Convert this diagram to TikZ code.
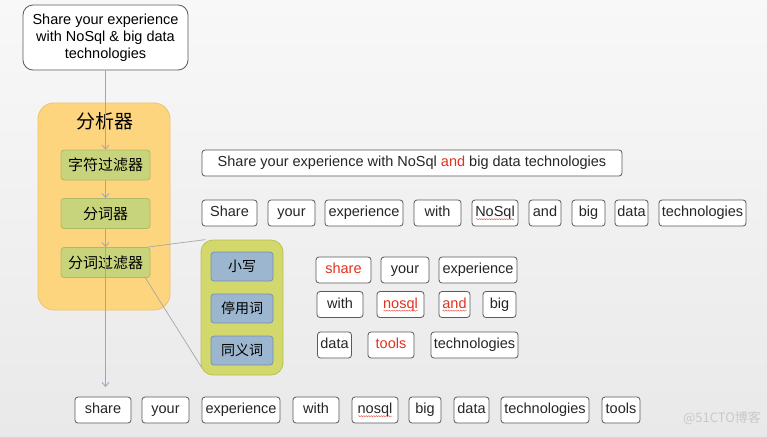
\documentclass[tikz,border=0pt]{standalone}
\usepackage{fontspec}
\setmainfont{Liberation Sans}
\newfontfamily\cjk{Noto Sans CJK SC}
\usetikzlibrary{arrows.meta,decorations.pathmorphing,calc}
\definecolor{bgtop}{HTML}{F8F8F8}
\definecolor{bgbot}{HTML}{E9E9E9}
\definecolor{flowline}{HTML}{9AA4CC}
\definecolor{orfill}{HTML}{FDD57F}
\definecolor{ordraw}{HTML}{EFC267}
\definecolor{grfill}{HTML}{C8D47C}
\definecolor{grdraw}{HTML}{AEBB62}
\definecolor{grpfill}{HTML}{D3D86C}
\definecolor{grpdraw}{HTML}{BAC04E}
\definecolor{blfill}{HTML}{9DB6CF}
\definecolor{bldraw}{HTML}{7391B0}
\definecolor{tokdraw}{HTML}{5A5A5A}
\definecolor{redtxt}{HTML}{E0321E}
\definecolor{wm}{HTML}{C9C9C9}
\tikzset{
  tok/.style={draw=tokdraw, line width=0.8pt, fill=white, rounded corners=3pt,
    minimum height=26pt, inner sep=0pt, text height=10.5pt, text depth=3.2pt,
    font=\fontsize{14.5}{17}\selectfont, text=black!85},
  orbox/.style={draw=ordraw, fill=orfill, line width=0.8pt, rounded corners=16pt, inner sep=0pt},
  grbox/.style={draw=grdraw, fill=grfill, line width=0.8pt, rounded corners=3pt,
    minimum width=89pt, minimum height=30pt, inner sep=0pt, font=\cjk\fontsize{15}{17}\selectfont},
  grpbox/.style={draw=grpdraw, fill=grpfill, line width=0.8pt, rounded corners=12pt, inner sep=0pt},
  blbox/.style={draw=bldraw, fill=blfill, line width=0.8pt, rounded corners=3pt,
    minimum width=62pt, minimum height=29pt, inner sep=0pt, font=\cjk\fontsize{14}{17}\selectfont},
  flow/.style={draw=flowline, line width=0.8pt, -{Straight Barb[length=4pt,width=7pt]}},
  side/.style={draw=gray!70, line width=0.7pt},
  wavy/.style={draw=redtxt!80, line width=0.4pt, decorate,
    decoration={snake, amplitude=0.6pt, segment length=2.5pt}}
}
\begin{document}
\begin{tikzpicture}[x=1pt,y=-1pt]
\shade[top color=bgtop, bottom color=bgbot] (0,0) rectangle (767,436);
\useasboundingbox (0,0) rectangle (767,436);

% top input box
\node[draw=tokdraw, line width=0.8pt, fill=white, rounded corners=10pt,
  minimum width=165pt, minimum height=65pt, inner sep=0pt, align=center,
  font=\fontsize{14.5}{17}\selectfont] (input) at (105.5,37.5)
  {Share your experience\\with NoSql \& big data\\technologies};

% analyzer
\node[orbox, minimum width=132pt, minimum height=207pt] (analyzer) at (104,206.5) {};
\node[font=\cjk\fontsize{19}{22}\selectfont, inner sep=0pt] (antitle) at (105,121) {分析器};
\node[grbox] (cf) at (105.5,165) {字符过滤器};
\node[grbox] (tk) at (105.5,213.5) {分词器};
\node[grbox] (tf) at (105.5,262.5) {分词过滤器};

% filter group
\node[grpbox, minimum width=82pt, minimum height=135pt] (grp) at (242,307.5) {};
\node[blbox] (lower) at (242,266.5) {小写};
\node[blbox] (stop) at (242,308.5) {停用词};
\node[blbox] (syn) at (242,350.5) {同义词};

% connectors
\coordinate (endpt) at (105.5,387);
\draw[flow] (input.south) -- (cf.north);
\draw[flow] (cf.south) -- (tk.north);
\draw[flow] (tk.south) -- (tf.north);
\draw[flow] (tf.north) -- (endpt);
\draw[side] ($(tf.north east)+(-3,0)$) -- ($(grp.north west)+(5,0)$);
\draw[side] ($(tf.south east)+(-5,0)$) -- ($(grp.south west)+(1,-8)$);

% sentence
\node[tok, minimum width=420pt] (sent) at (412,163)
  {Share your experience with NoSql \textcolor{redtxt}{and} big data technologies};

% row 1 tokens
\node[tok, minimum width=55pt] (r1a) at (229.5,213) {Share};
\node[tok, minimum width=47pt] (r1b) at (291.5,213) {your};
\node[tok, minimum width=78pt] (r1c) at (364,213) {experience};
\node[tok, minimum width=47pt] (r1d) at (437.5,213) {with};
\node[tok, minimum width=46pt] (r1e) at (495,213) {NoSql};
\node[tok, minimum width=32pt] (r1f) at (545,213) {and};
\node[tok, minimum width=33pt] (r1g) at (588.5,213) {big};
\node[tok, minimum width=33pt] (r1h) at (631.5,213) {data};
\node[tok, minimum width=87pt] (r1i) at (702.5,213) {technologies};

% filtered tokens
\node[tok, minimum width=55pt, text=redtxt] (f1) at (343.5,270) {share};
\node[tok, minimum width=48pt] (f2) at (405,270) {your};
\node[tok, minimum width=78pt] (f3) at (478,270) {experience};
\node[tok, minimum width=46pt] (f4) at (340,304.5) {with};
\node[tok, minimum width=47pt, text=redtxt] (f5) at (400.5,304.5) {nosql};
\node[tok, minimum width=31pt, text=redtxt] (f6) at (454.5,304.5) {and};
\node[tok, minimum width=33pt] (f7) at (499.5,304.5) {big};
\node[tok, minimum width=34pt] (f8) at (334.5,345) {data};
\node[tok, minimum width=46pt, text=redtxt] (f9) at (391,345) {tools};
\node[tok, minimum width=87pt] (f10) at (474.5,345) {technologies};

% output tokens
\node[tok, minimum width=56pt] (o1) at (103,410) {share};
\node[tok, minimum width=47pt] (o2) at (165.5,410) {your};
\node[tok, minimum width=78pt] (o3) at (241,410) {experience};
\node[tok, minimum width=46pt] (o4) at (316,410) {with};
\node[tok, minimum width=46pt] (o5) at (375,410) {nosql};
\node[tok, minimum width=32pt] (o6) at (425,410) {big};
\node[tok, minimum width=35pt] (o7) at (471.5,410) {data};
\node[tok, minimum width=88pt] (o8) at (545,410) {technologies};
\node[tok, minimum width=38pt] (o9) at (621,410) {tools};

% spell-check underlines
\draw[wavy] ($(r1e.base)+(-19,2.5)$) -- ($(r1e.base)+(19,2.5)$);
\draw[wavy] ($(f5.base)+(-17,2.5)$) -- ($(f5.base)+(17,2.5)$);
\draw[wavy] ($(f6.base)+(-12,2.5)$) -- ($(f6.base)+(12,2.5)$);
\draw[wavy] ($(o5.base)+(-17,2.5)$) -- ($(o5.base)+(17,2.5)$);

% watermark
\node[font=\cjk\fontsize{13}{15}\selectfont, text=wm, inner sep=0pt] (wmark) at (722,418) {@51CTO博客};
\end{tikzpicture}
\end{document}
